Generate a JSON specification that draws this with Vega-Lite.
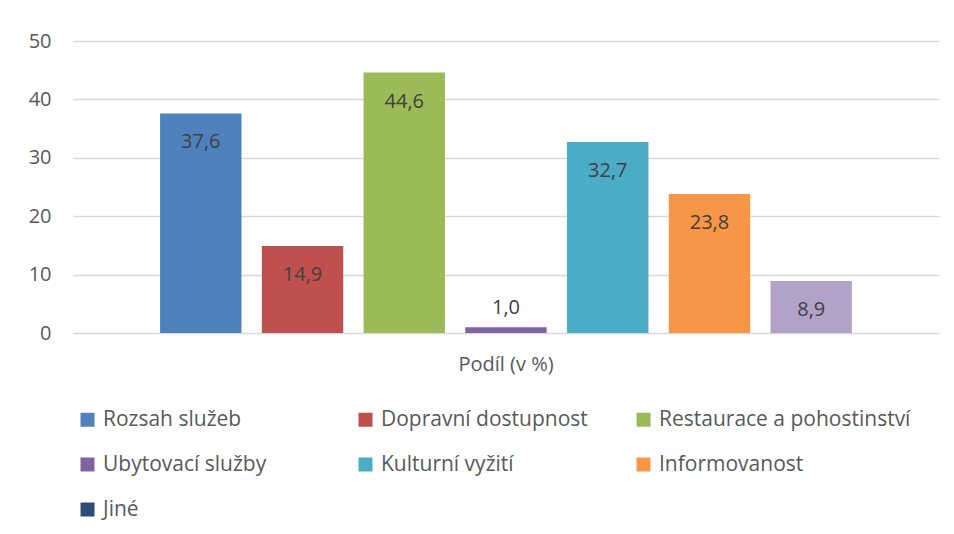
{
  "$schema": "https://vega.github.io/schema/vega-lite/v6.json",
  "autosize": "none",
  "width": 866,
  "height": 292,
  "padding": {"left": 73, "top": 41, "right": 15, "bottom": 201},
  "background": "white",
  "config": {
    "view": {"stroke": null},
    "font": "Open Sans",
    "locale": {"number": {"decimal": ",", "thousands": " ", "grouping": [3], "currency": ["", " Kč"]}}
  },
  "data": {
    "values": [
      {"kategorie": "Podíl (v %)", "serie": "Rozsah služeb", "hodnota": 37.6},
      {"kategorie": "Podíl (v %)", "serie": "Dopravní dostupnost", "hodnota": 14.9},
      {"kategorie": "Podíl (v %)", "serie": "Restaurace a pohostinství", "hodnota": 44.6},
      {"kategorie": "Podíl (v %)", "serie": "Ubytovací služby", "hodnota": 1.0},
      {"kategorie": "Podíl (v %)", "serie": "Kulturní vyžití", "hodnota": 32.7},
      {"kategorie": "Podíl (v %)", "serie": "Informovanost", "hodnota": 23.8},
      {"kategorie": "Podíl (v %)", "serie": "Jiné", "hodnota": 8.9}
    ]
  },
  "encoding": {
    "x": {
      "field": "kategorie", "type": "nominal",
      "scale": {"paddingInner": 0, "paddingOuter": 0.108},
      "axis": {"title": null, "labelAngle": 0, "ticks": false, "domain": false, "labelPadding": 21, "labelFontSize": 20, "labelColor": "#595959", "labelFont": "Open Sans"}
    },
    "xOffset": {
      "field": "serie", "type": "nominal",
      "sort": ["Rozsah služeb", "Dopravní dostupnost", "Restaurace a pohostinství", "Ubytovací služby", "Kulturní vyžití", "Informovanost", "Jiné"],
      "scale": {"paddingInner": 0.2, "paddingOuter": 0.1}
    },
    "y": {
      "field": "hodnota", "type": "quantitative",
      "scale": {"domain": [0, 50]},
      "axis": {"title": null, "values": [0, 10, 20, 30, 40, 50], "labelOverlap": false, "ticks": false, "domain": false, "labelPadding": 22, "labelFontSize": 20, "labelColor": "#595959", "labelFont": "Open Sans", "gridColor": "#D9D9D9", "gridWidth": 1.5}
    }
  },
  "layer": [
    {
      "mark": {"type": "bar"},
      "encoding": {
        "color": {
          "field": "serie", "type": "nominal",
          "condition": {"test": "datum.serie === 'Jiné'", "value": "#B3A2C7"},
          "scale": {
            "domain": ["Rozsah služeb", "Dopravní dostupnost", "Restaurace a pohostinství", "Ubytovací služby", "Kulturní vyžití", "Informovanost", "Jiné"],
            "range": ["#4F81BD", "#C0504D", "#9BBB59", "#8064A2", "#4BACC6", "#F79646", "#2C4D75"]
          },
          "legend": {
            "title": null, "orient": "none", "legendX": 4, "legendY": 368, "direction": "horizontal",
            "columns": 3, "gridAlign": "all", "columnPadding": -5, "rowPadding": 23, "padding": 0,
            "symbolType": "square", "symbolSize": 196, "symbolStrokeWidth": 0, "symbolOpacity": 1,
            "labelFontSize": 21, "labelColor": "#595959", "labelFont": "Open Sans", "labelOffset": 5, "labelLimit": 400
          }
        }
      }
    },
    {
      "transform": [{"filter": "datum.hodnota >= 5"}],
      "mark": {"type": "text", "baseline": "middle", "align": "center", "dy": 29, "fontSize": 20, "font": "Open Sans", "color": "#404040"},
      "encoding": {"text": {"field": "hodnota", "type": "quantitative", "format": ".1f"}}
    },
    {
      "transform": [{"filter": "datum.hodnota < 5"}],
      "mark": {"type": "text", "baseline": "middle", "align": "center", "dy": -19, "fontSize": 20, "font": "Open Sans", "color": "#404040"},
      "encoding": {"text": {"field": "hodnota", "type": "quantitative", "format": ".1f"}}
    }
  ]
}
